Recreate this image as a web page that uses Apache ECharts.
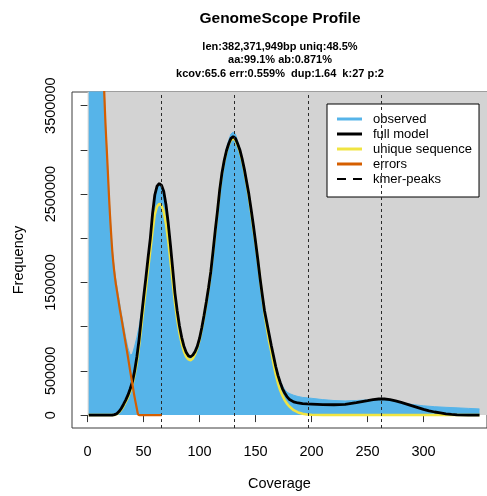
<!DOCTYPE html>
<html>
<head>
<meta charset="utf-8">
<title>GenomeScope Profile</title>
<script src="https://cdn.jsdelivr.net/npm/echarts@6/dist/echarts.min.js"></script>
<style>
  html, body { margin: 0; padding: 0; background: #fff; }
  #chart { width: 487px; height: 496px; }
</style>
</head>
<body>
<div id="chart"></div>
<script>
// k-mer coverage histogram (observed) and GenomeScope model fits
const obsCov = [1,2,4,6,8,10,12,14,15,16,17,18,19,20,21,22,23,24,25,26,27,28,29,30,32,34,36,38,40,42,44,
  46,48,50,52,54,56,58,60,62,64,66,68,70,72,74,76,78,80,82,84,86,88,90,92,94,96,98,100,
  102,104,106,108,110,112,114,116,118,120,122,124,126,128,130,132,134,136,138,140,142,144,146,148,150,
  152,154,156,158,160,162,164,166,168,170,172,174,176,178,180,184,188,192,196,200,
  210,220,230,240,250,260,270,280,290,300,310,320,330,340,350];
const obsFreq = [32000000,25000000,13500000,8800000,6700000,5500000,4700000,4000000,3620000,3300000,3050000,2790000,2520000,2280000,2070000,1880000,1750000,1640000,1550000,1470000,1390000,1310000,1230000,1160000,1020000,880000,760000,680000,690000,780000,880000,
  1000000,1160000,1360000,1560000,1780000,2000000,2280000,2480000,2580000,2600000,2580000,2520000,2370000,2160000,1900000,1630000,1370000,1170000,1000000,870000,770000,700000,660000,650000,670000,720000,780000,870000,
  990000,1130000,1290000,1450000,1630000,1860000,2100000,2320000,2570000,2760000,2900000,3020000,3110000,3180000,3200000,3180000,3100000,3010000,2900000,2780000,2640000,2500000,2330000,2150000,1960000,
  1760000,1560000,1370000,1200000,1060000,930000,800000,680000,570000,470000,390000,330000,290000,260000,245000,225000,210000,200000,195000,190000,
  175000,165000,160000,165000,172000,175000,160000,140000,120000,105000,95000,88000,82000,76000,70000];

const fullCov = [1,4,8,12,16,20,22,24,26,28,30,32,34,36,38,40,42,44,46,48,50,52,54,56,58,60,62,64,66,68,70,
  72,74,76,78,80,82,84,86,88,90,92,94,96,98,100,102,104,106,108,110,112,114,116,118,120,122,124,126,128,130,
  132,134,136,138,140,142,144,146,148,150,152,154,156,158,160,162,164,166,168,170,172,174,176,178,180,
  184,188,192,196,200,210,220,230,240,250,255,260,265,270,275,280,285,290,295,300,305,310,315,320,325,330,340,350];
const fullFreq = [0,0,0,0,0,0,0,5000,15000,40000,75000,120000,170000,225000,295000,375000,500000,660000,860000,1100000,1330000,1550000,1780000,2000000,2280000,2490000,2590000,2620000,2600000,2530000,2380000,
  2170000,1920000,1650000,1380000,1180000,1010000,880000,780000,710000,670000,660000,680000,720000,780000,870000,990000,1130000,1280000,1440000,1620000,1850000,2090000,2310000,2550000,2740000,2880000,2990000,3070000,3130000,3150000,
  3130000,3070000,3000000,2900000,2780000,2640000,2500000,2330000,2150000,1960000,1760000,1550000,1360000,1180000,1050000,920000,790000,670000,550000,450000,370000,300000,250000,210000,180000,
  150000,137000,130000,127000,125000,118000,117000,122000,140000,163000,175000,182000,182000,175000,160000,143000,125000,105000,85000,65000,48000,35000,25000,15000,8000,3000,0,0];

const uniqCov = [1,4,8,12,16,20,24,26,28,30,32,34,36,38,40,42,44,46,48,50,52,54,56,58,60,62,64,66,68,70,
  72,74,76,78,80,82,84,86,88,90,92,94,96,98,100,102,104,106,108,110,112,114,116,118,120,122,124,126,128,130,
  132,134,136,138,140,142,144,146,148,150,152,154,156,158,160,162,164,166,168,170,172,174,176,178,180,
  184,188,192,196,200,210,220,350];
const uniqFreq = [0,0,0,0,0,0,0,10000,30000,60000,100000,150000,200000,265000,340000,460000,600000,790000,1000000,1220000,1430000,1650000,1860000,2080000,2270000,2360000,2390000,2370000,2300000,2160000,
  1970000,1740000,1500000,1270000,1080000,930000,810000,720000,660000,630000,620000,640000,690000,760000,850000,975000,1115000,1265000,1425000,1605000,1835000,2075000,2300000,2540000,2730000,2870000,2980000,3060000,3110000,3130000,
  3110000,3050000,2980000,2880000,2760000,2620000,2470000,2300000,2110000,1950000,1750000,1540000,1340000,1150000,990000,840000,720000,580000,460000,360000,280000,220000,170000,130000,100000,
  55000,30000,15000,7000,3000,0,0,0];

const errCov = [1,2,4,6,8,10,12,14,15,16,17,18,19,20,21,22,23,24,25,26,27,28,29,30,32,34,36,38,40,42,44,45,46,50,55,60,66];
const errFreq = [32000000,24000000,13000000,8500000,6500000,5300000,4600000,3950000,3600000,3280000,3030000,2770000,2500000,2260000,2050000,1860000,1720000,1600000,1500000,1420000,1340000,1260000,1180000,1110000,960000,810000,660000,500000,350000,200000,70000,10000,0,0,0,0,0];

// coverage of the homozygous peak and its multiples
const kmerPeaks = [65.6, 131.2, 196.8, 262.4];

const xTicks = [0, 50, 100, 150, 200, 250, 300];
const yTicks = [0, 500000, 1000000, 1500000, 2000000, 2500000, 3000000, 3500000];
const yLabels = [0, 500000, 1500000, 2500000, 3500000];

const titleText = 'GenomeScope Profile';
const statsLines = [
  'len:382,371,949bp uniq:48.5%',
  'aa:99.1% ab:0.871%',
  'kcov:65.6 err:0.559%  dup:1.64  k:27 p:2'
];

const COL_OBS = '#56B4E9';
const COL_FULL = '#000000';
const COL_UNIQ = '#F0E442';
const COL_ERR = '#D55E00';
const COL_BG = '#D3D3D3';
const FONT = '"Liberation Sans", Arial, Helvetica, sans-serif';

const pairs = (xs, ys) => xs.map((x, i) => [x, ys[i]]);

const chart = echarts.init(document.getElementById('chart'), null, { renderer: 'canvas' });

chart.setOption({
  animation: false,
  backgroundColor: '#ffffff',
  textStyle: { fontFamily: FONT, color: '#000' },
  title: [
    {
      text: titleText,
      left: 275, top: 6, textAlign: 'center',
      textStyle: { fontFamily: FONT, fontSize: 15.5, fontWeight: 'bold', color: '#000' }
    },
    {
      text: statsLines.join('\n'),
      left: 275, top: 35, textAlign: 'center',
      textStyle: { fontFamily: FONT, fontSize: 11, fontWeight: 'bold', color: '#000', lineHeight: 13.5 }
    }
  ],
  grid: {
    left: 72, top: 92, right: -10, bottom: 65,
    show: true, backgroundColor: '#ffffff', borderColor: '#3c3c3c', borderWidth: 1
  },
  legend: {
    orient: 'vertical',
    left: 327, top: 104,
    padding: [7.5, 7, 10.5, 10],
    itemWidth: 25, itemHeight: 3, itemGap: 0,
    backgroundColor: '#ffffff', borderColor: '#000', borderWidth: 1, borderRadius: 0,
    selectedMode: false,
    textStyle: { fontFamily: FONT, fontSize: 13, color: '#000', lineHeight: 15, padding: [0, 0, 0, 6] },
    data: [
      { name: 'observed', icon: 'rect', itemStyle: { color: COL_OBS, borderWidth: 0 } },
      { name: 'full model', icon: 'rect', itemStyle: { color: COL_FULL, borderWidth: 0 } },
      { name: 'unique sequence', icon: 'rect', itemStyle: { color: COL_UNIQ, borderWidth: 0 } },
      { name: 'errors', icon: 'rect', itemStyle: { color: COL_ERR, borderWidth: 0 } },
      { name: 'kmer-peaks', icon: 'path://M0,0h9v2h-9zM16,0h9v2h-9z', itemStyle: { color: '#000', borderWidth: 0 } }
    ]
  },
  xAxis: {
    type: 'value', min: -13.95, max: 356.7,
    name: 'Coverage', nameLocation: 'middle', nameGap: 48,
    nameTextStyle: { fontFamily: FONT, fontSize: 14.5, color: '#000' },
    axisLine: { show: false },
    axisTick: { show: true, customValues: xTicks, length: 7, lineStyle: { color: '#333' } },
    axisLabel: { customValues: xTicks, margin: 16, fontFamily: FONT, fontSize: 14.5, color: '#000' },
    splitLine: { show: false }
  },
  yAxis: {
    type: 'value', min: -146000, max: 3655000,
    name: 'Frequency', nameLocation: 'middle', nameGap: 46, nameRotate: 90,
    nameTextStyle: { fontFamily: FONT, fontSize: 14.5, color: '#000' },
    axisLine: { show: false },
    axisTick: { show: true, customValues: yTicks, length: 7, lineStyle: { color: '#333' } },
    axisLabel: {
      customValues: yLabels, rotate: 90, margin: 14, fontFamily: FONT, fontSize: 14.5, color: '#000',
      formatter: v => String(v)
    },
    splitLine: { show: false }
  },
  series: [
    {
      // light grey panel behind the data, from the origin upwards
      type: 'custom', name: 'panel', z: 1, silent: true,
      data: [[0, 0, 2000, 100000000]],
      renderItem: function (params, api) {
        const p0 = api.coord([api.value(0), api.value(1)]);
        const p1 = api.coord([api.value(2), api.value(3)]);
        const shape = echarts.graphic.clipRectByRect({
          x: p0[0], y: p1[1], width: p1[0] - p0[0], height: p0[1] - p1[1]
        }, {
          x: params.coordSys.x, y: params.coordSys.y,
          width: params.coordSys.width, height: params.coordSys.height
        });
        return shape && { type: 'rect', shape: shape, style: { fill: COL_BG } };
      }
    },
    {
      name: 'observed', type: 'line', z: 2, symbol: 'none', clip: true,
      data: pairs(obsCov, obsFreq),
      lineStyle: { color: COL_OBS, width: 1 },
      itemStyle: { color: COL_OBS },
      areaStyle: { color: COL_OBS, opacity: 1 }
    },
    {
      name: 'unique sequence', type: 'line', z: 3, symbol: 'none', clip: true,
      data: pairs(uniqCov, uniqFreq),
      lineStyle: { color: COL_UNIQ, width: 2.5 },
      itemStyle: { color: COL_UNIQ }
    },
    {
      name: 'full model', type: 'line', z: 4, symbol: 'none', clip: true,
      data: pairs(fullCov, fullFreq),
      lineStyle: { color: COL_FULL, width: 2.8 },
      itemStyle: { color: COL_FULL }
    },
    {
      name: 'errors', type: 'line', z: 5, symbol: 'none', clip: true, smooth: 0.3,
      data: pairs(errCov, errFreq),
      lineStyle: { color: COL_ERR, width: 2.2 },
      itemStyle: { color: COL_ERR }
    },
    {
      name: 'kmer-peaks', type: 'line', z: 6, symbol: 'none',
      data: [],
      lineStyle: { color: '#000', width: 1, type: [3, 3] },
      itemStyle: { color: '#000' },
      markLine: {
        silent: true, symbol: ['none', 'none'], animation: false,
        label: { show: false },
        lineStyle: { color: '#2a2a2a', width: 1, type: [3, 3] },
        data: kmerPeaks.map(v => ({ xAxis: v }))
      }
    }
  ]
});
</script>
</body>
</html>
